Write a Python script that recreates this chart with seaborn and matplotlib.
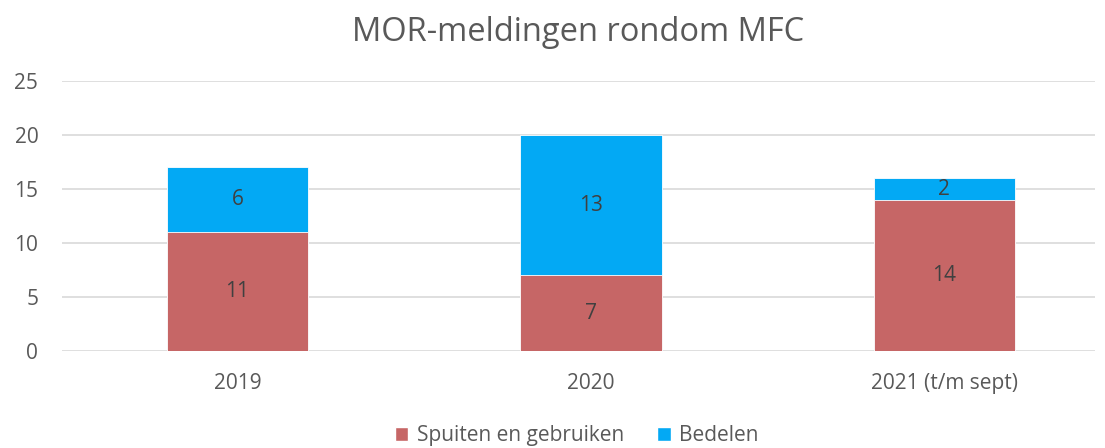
import matplotlib
matplotlib.use("Agg")
import matplotlib.pyplot as plt
import seaborn as sns
import pandas as pd
from matplotlib.patches import Patch

categories = ["2019", "2020", "2021 (t/m sept)"]
spuiten = [11, 7, 14]
bedelen = [6, 13, 2]
series_names = ["Spuiten en gebruiken", "Bedelen"]

RED = "#C66666"
BLUE = "#03A9F4"
TXT = "#595959"

sns.set_theme(style="white")
plt.rcParams['font.family'] = ['Open Sans', 'DejaVu Sans']

totals = [a + b for a, b in zip(spuiten, bedelen)]
df = pd.DataFrame({"cat": categories, "spuiten": spuiten, "bedelen": bedelen, "total": totals})

fig = plt.figure(figsize=(11.05, 4.48), dpi=100)
ax = fig.add_axes([0.056, 0.2165, 0.935, 0.6025])

sns.barplot(data=df, x="cat", y="total", color=BLUE, saturation=1, width=0.4, ax=ax,
            edgecolor="white", linewidth=0.6, zorder=3)
sns.barplot(data=df, x="cat", y="spuiten", color=RED, saturation=1, width=0.4, ax=ax,
            edgecolor="white", linewidth=0.6, zorder=3)

for i, (s, b) in enumerate(zip(spuiten, bedelen)):
    ax.text(i, s / 2, str(s), ha="center", va="center", fontsize=15, color="#404040", zorder=5)
    ax.text(i, s + b / 2, str(b), ha="center", va="center", fontsize=15, color="#404040", zorder=5)

ax.set_xlim(-0.497, 2.427)
ax.set_ylim(0, 25)
ax.set_yticks([0, 5, 10, 15, 20, 25])
ax.yaxis.grid(True, color="#D9D9D9", linewidth=1.2, zorder=0)
ax.set_axisbelow(True)
for sp in ax.spines.values():
    sp.set_visible(False)
ax.set_xlabel("")
ax.set_ylabel("")
ax.tick_params(axis="y", labelsize=15, labelcolor=TXT, length=0, pad=17)
ax.tick_params(axis="x", labelsize=15, labelcolor=TXT, length=0, pad=16)

fig.suptitle("MOR-meldingen rondom MFC", fontsize=23.5, color=TXT, x=0.523, y=0.965)

handles = [Patch(facecolor=RED, label=series_names[0]), Patch(facecolor=BLUE, label=series_names[1])]
leg = fig.legend(handles=handles, loc="center", bbox_to_anchor=(0.522, 0.027), ncol=2, frameon=False,
                 fontsize=15, handlelength=0.65, handleheight=0.65, handletextpad=0.4, columnspacing=1.6,
                 labelcolor=TXT)

fig.savefig("out.png", dpi=100)
